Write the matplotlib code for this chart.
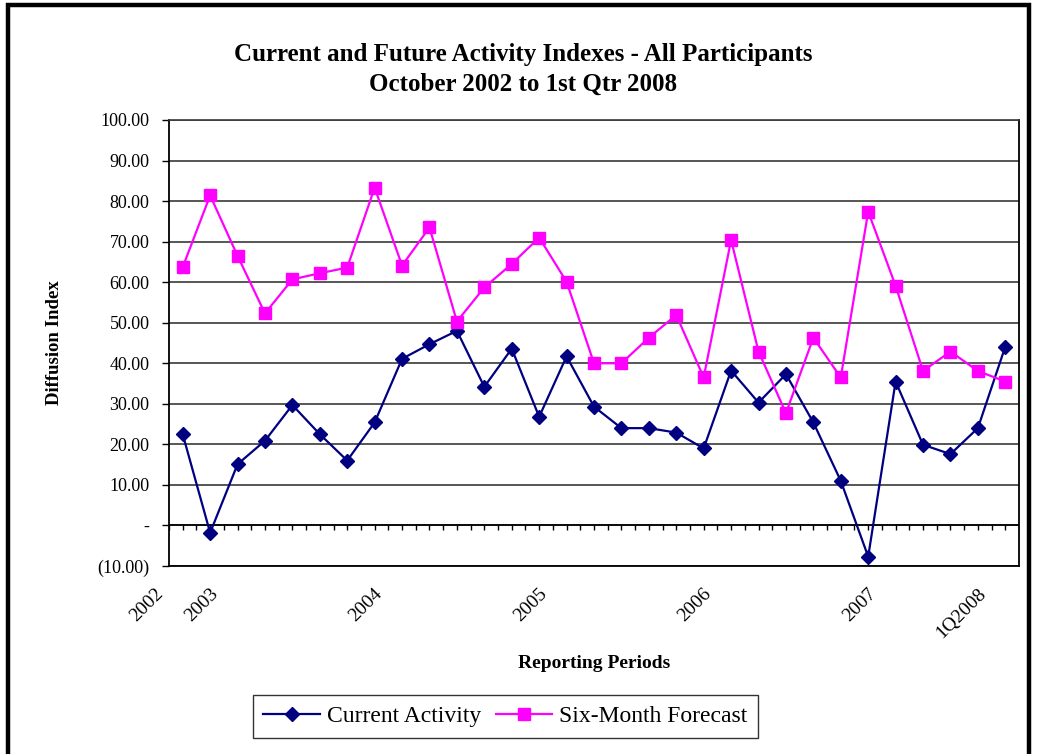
import numpy as np
import matplotlib
matplotlib.use("Agg")
import matplotlib.pyplot as plt
from matplotlib.patches import Rectangle
from matplotlib.transforms import ScaledTranslation
from matplotlib.ticker import FuncFormatter, MultipleLocator

plt.rcParams['font.family'] = ['Liberation Serif', 'DejaVu Serif']

# Reporting periods (31 surveys) and the index values
period_labels = ["2002", "2003", "2004", "2005", "2006", "2007", "1Q2008"]
period_label_pos = [0, 2, 8, 14, 20, 26, 30]

current_activity = [22.5, -1.8, 15.1, 20.9, 29.7, 22.5, 16.0, 25.4, 41.1, 44.7,
                    48.0, 34.2, 43.6, 26.8, 41.7, 29.3, 24.0, 24.0, 22.9, 19.0,
                    38.2, 30.3, 37.3, 25.4, 11.0, -7.7, 35.5, 19.9, 17.6, 24.0,
                    44.1]
six_month_forecast = [63.7, 81.4, 66.5, 52.3, 60.7, 62.2, 63.6, 83.3, 64.1, 73.5,
                      50.3, 58.7, 64.5, 71.0, 60.1, 40.0, 40.0, 46.3, 51.9, 36.5,
                      70.4, 42.9, 27.7, 46.3, 36.5, 77.4, 59.1, 38.1, 42.9, 38.1,
                      35.5]

W, H = 1038, 754
fig = plt.figure(figsize=(W / 100, H / 100), dpi=100)
fig.patch.set_facecolor('white')

# outer chart frame
fig.add_artist(Rectangle((8 / W, -0.05), (1029 - 8) / W, 1.05 - 5 / H,
                         transform=fig.transFigure, fill=False,
                         edgecolor='black', linewidth=3.2))

ax = fig.add_axes([169 / W, 1 - 566 / H, 850 / W, 446 / H])
x = np.arange(len(current_activity))

ax.set_xlim(-0.5, len(current_activity) - 0.5)
ax.set_ylim(-10, 100)

# horizontal gridlines
ax.yaxis.set_major_locator(MultipleLocator(10))
ax.grid(axis='y', color='#3a3a3a', linewidth=1.2)
ax.set_axisbelow(True)

# zero line with tick marks
ax.axhline(0, color='black', linewidth=1.2, zorder=1.5)
tick_x = np.arange(-0.5, len(current_activity), 0.5)
ax.vlines(tick_x, -1.2, 0, color='black', linewidth=1.0, zorder=1.5)

ax.plot(x, current_activity, color='#000080', linewidth=1.6, marker='D',
        markersize=7.5, markerfacecolor='#000080', markeredgecolor='#000080',
        label='Current Activity', zorder=3)
ax.plot(x, six_month_forecast, color='#FF00FF', linewidth=1.6, marker='s',
        markersize=8, markerfacecolor='#FF00FF', markeredgecolor='#FF00FF',
        label='Six-Month Forecast', zorder=3)


def fmt(v, pos):
    if abs(v) < 1e-9:
        return '-'
    if v < 0:
        return f'({abs(v):.2f})'
    return f'{v:.2f}'


ax.yaxis.set_major_formatter(FuncFormatter(fmt))
ax.tick_params(axis='y', direction='out', length=5, width=1, pad=9,
               labelsize=13, colors='black')

ax.set_xticks(period_label_pos)
ax.set_xticklabels(period_labels, rotation=45, ha='right', va='top',
                   rotation_mode='default', fontsize=14)
ax.tick_params(axis='x', length=0, pad=14)
shift = ScaledTranslation(-16 / 100, 0, fig.dpi_scale_trans)
for lbl in ax.get_xticklabels():
    lbl.set_transform(lbl.get_transform() + shift)

for s in ax.spines.values():
    s.set_color('black')
    s.set_linewidth(1.3)
ax.spines['top'].set_color('#3a3a3a')
ax.spines['top'].set_linewidth(1.2)

ax.set_ylabel('Diffusion Index', fontsize=13.5, fontweight='bold', labelpad=8)
ax.yaxis.set_label_coords(-0.125, 0.5)
ax.set_xlabel('Reporting Periods', fontsize=14, fontweight='bold')
ax.xaxis.set_label_coords(0.5, -0.2)

fig.text(523 / W, 1 - 61 / H, 'Current and Future Activity Indexes - All Participants',
         ha='center', va='baseline', fontsize=18, fontweight='bold')
fig.text(523 / W, 1 - 91 / H, 'October 2002 to 1st Qtr 2008',
         ha='center', va='baseline', fontsize=18, fontweight='bold')

leg = fig.legend(loc='center', bbox_to_anchor=(505.5 / W, 1 - 716.5 / H),
                 ncol=2, frameon=True, fancybox=False, fontsize=17,
                 handlelength=2.4, columnspacing=0.6, handletextpad=0.3,
                 borderpad=0.45)
leg.get_frame().set_edgecolor('black')
leg.get_frame().set_linewidth(1.0)

fig.savefig('out.png', dpi=100, facecolor='white')
